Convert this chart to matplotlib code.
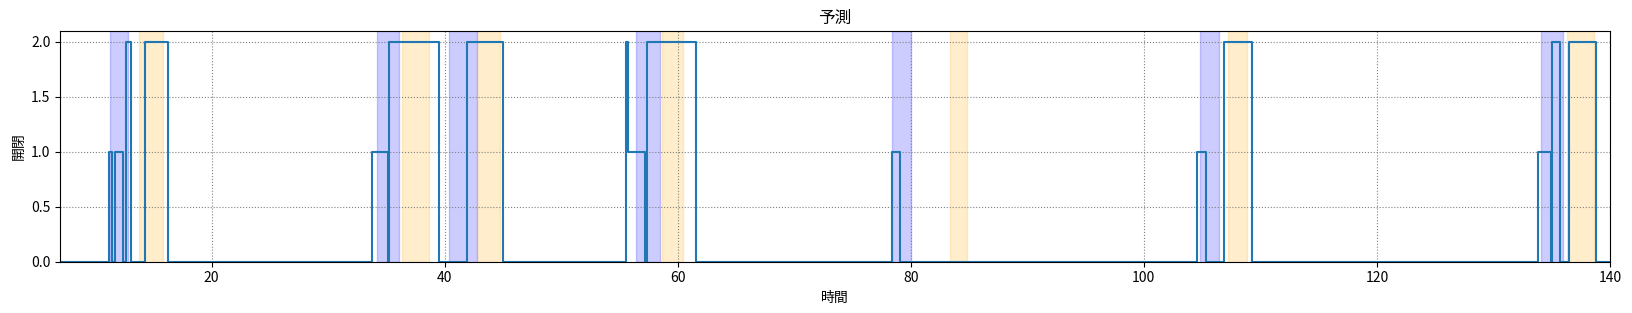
import numpy as np
import matplotlib.pyplot as plt

plt.rcParams['font.family'] = ['Noto Sans CJK JP', 'DejaVu Sans']

# 状態が切り替わる時刻と、その時刻からの値(post step)
jikan = [0, 11.2, 11.5, 11.75, 12.4, 12.7, 13.05, 14.3, 16.3,
         33.75, 35.1, 35.25, 39.55, 41.9, 45.05,
         55.6, 55.7, 57.2, 57.35, 61.55,
         78.4, 79.05,
         104.6, 105.35, 106.9, 109.3,
         133.8, 134.9, 135.05, 135.7, 136.5, 138.8, 140]
kaihei = [0, 1, 0, 1, 0, 2, 0, 2, 0,
          1, 0, 2, 0, 2, 0,
          2, 1, 0, 2, 0,
          1, 0,
          1, 0, 2, 0,
          1, 0, 2, 0, 2, 0, 0]

# 色付き区間
ao_kukan = [(11.27, 12.8), (34.2, 36.1), (40.4, 42.75), (56.4, 58.5),
            (78.4, 80.0), (104.85, 106.45), (134.1, 135.95)]
daidai_kukan = [(13.75, 15.8), (36.35, 38.7), (42.75, 44.75), (58.65, 60.45),
                (83.4, 84.8), (107.25, 108.85), (136.3, 138.6)]

fig, ax = plt.subplots(figsize=(16.32, 3.13), dpi=100)
fig.subplots_adjust(left=0.0368, right=0.9865, top=0.901, bottom=0.164)

for a, b in ao_kukan:
    ax.axvspan(a, b, color='blue', alpha=0.2)
for a, b in daidai_kukan:
    ax.axvspan(a, b, color='orange', alpha=0.2)

ax.step(jikan, kaihei, where='post', color='C0', lw=1.5)

ax.set_xlim(7, 140)
ax.set_ylim(0, 2.1)
ax.grid(True, linestyle=':', color='gray')
ax.set_title('予測')
ax.set_xlabel('時間')
ax.set_ylabel('開閉')

plt.savefig('out.png')
